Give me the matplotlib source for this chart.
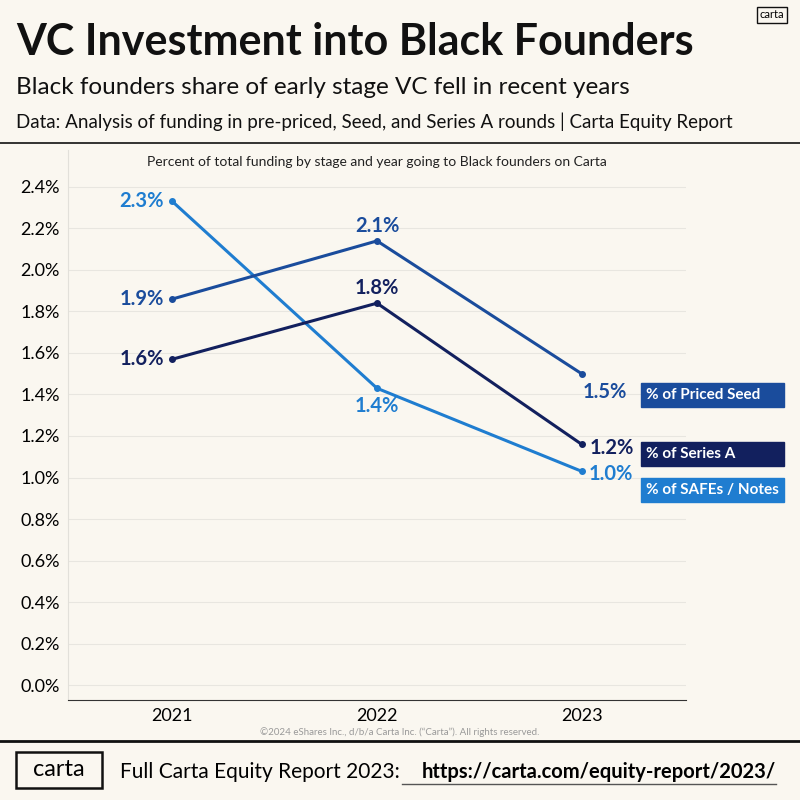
import matplotlib
matplotlib.use("Agg")
import matplotlib.pyplot as plt
from matplotlib.patches import Rectangle

years = [2021, 2022, 2023]
priced_seed = [1.86, 2.14, 1.50]
series_a = [1.57, 1.84, 1.16]
safes = [2.33, 1.43, 1.03]
priced_labels = ["1.9%", "2.1%", "1.5%"]
series_labels = ["1.6%", "1.8%", "1.2%"]
safe_labels = ["2.3%", "1.4%", "1.0%"]
yticks = [0.0, 0.2, 0.4, 0.6, 0.8, 1.0, 1.2, 1.4, 1.6, 1.8, 2.0, 2.2, 2.4]

BG = "#faf7f0"
C_SAFE = "#1f7dd0"
C_PRICED = "#1a4c9c"
C_SERIES = "#12205e"
plt.rcParams['font.family'] = ['Lato', 'DejaVu Sans']

fig = plt.figure(figsize=(8, 8), dpi=100, facecolor=BG)
ax = fig.add_axes([0.085, 0.125, 0.7725, 0.6875], facecolor=BG)
ax.set_xlim(2020.49, 2023.51)
ax.set_ylim(-0.072, 2.578)
ax.set_yticks(yticks)
ax.set_yticklabels([f"{v:.1f}%" for v in yticks], fontsize=13)
ax.set_xticks(years)
ax.set_xticklabels([str(y) for y in years], fontsize=13)
ax.tick_params(length=0, pad=6)
for s in ["top", "right"]:
    ax.spines[s].set_visible(False)
ax.spines["left"].set_color("#e2e0da")
ax.spines["bottom"].set_color("#333333")
ax.grid(axis="y", color="#e8e6e0", lw=0.8)
ax.set_axisbelow(True)

def series(vals, labels, color, offs):
    ax.plot(years, vals, color=color, lw=2.2, marker="o", ms=4)
    for x, v, l, (dx, dy) in zip(years, vals, labels, offs):
        ax.annotate(l, (x, v), xytext=(dx, dy), textcoords="offset points",
                    ha="center", va="center", color=color, fontsize=14.5, fontweight="bold")

series(safes, safe_labels, C_SAFE, [(-22, 0), (0, -13), (21, -2)])
series(priced_seed, priced_labels, C_PRICED, [(-22, 0), (0, 11), (17, -13)])
series(series_a, series_labels, C_SERIES, [(-22, 0), (0, 11), (22, -3)])

fig.text(0.5 * (68 + 686) / 800, 1 - 162 / 800,
         "Percent of total funding by stage and year going to Black founders on Carta",
         ha="center", va="center", fontsize=10, color="#222222")

# legend boxes
for y, txt, c in [(395, "% of Priced Seed", C_PRICED), (454, "% of Series A", C_SERIES),
                  (490, "% of SAFEs / Notes", C_SAFE)]:
    fig.patches.append(Rectangle((641/800, 1-(y+12)/800), 143/800, 24/800,
                                 transform=fig.transFigure, color=c, zorder=5))
    fig.text(646/800, 1-y/800, txt, ha="left", va="center", color="white",
             fontsize=11, fontweight="bold", zorder=6)

fig.text(16/800, 1-42/800, "VC Investment into Black Founders", fontsize=31, fontweight="bold",
         va="center", color="#111111")
fig.text(16/800, 1-87/800, "Black founders share of early stage VC fell in recent years",
         fontsize=17.5, va="center", color="#111111")
fig.text(16/800, 1-122/800, "Data: Analysis of funding in pre-priced, Seed, and Series A rounds | Carta Equity Report",
         fontsize=13.5, va="center", color="#111111")
fig.add_artist(plt.Line2D([0, 1], [1-143/800]*2, color="#111111", lw=1.2))
fig.add_artist(plt.Line2D([0, 1], [1-741/800]*2, color="#111111", lw=2))
fig.text(0.5, 1-732/800, "©2024 eShares Inc., d/b/a Carta Inc. (\u201cCarta\u201d). All rights reserved.",
         fontsize=7, ha="center", va="center", color="#999999")
fig.text(772/800, 1-15/800, "carta", fontsize=8, ha="center", va="center",
         bbox=dict(boxstyle="square,pad=0.25", fc=BG, ec="#111111", lw=1))
fig.patches.append(Rectangle((16/800, 1-788/800), 86/800, 36/800, transform=fig.transFigure,
                             fill=False, ec="#111111", lw=1.8))
fig.text(59/800, 1-770/800, "carta", fontsize=17, ha="center", va="center")
fig.text(120/800, 1-772/800, "Full Carta Equity Report 2023:", fontsize=15, va="center")
fig.text(776/800, 1-772/800, "https://carta.com/equity-report/2023/", fontsize=14.5,
         fontweight="bold", va="center", ha="right")
fig.add_artist(plt.Line2D([402/800, 776/800], [1-784/800]*2, color="#555555", lw=1))

fig.savefig("out.png", dpi=100, facecolor=BG)
